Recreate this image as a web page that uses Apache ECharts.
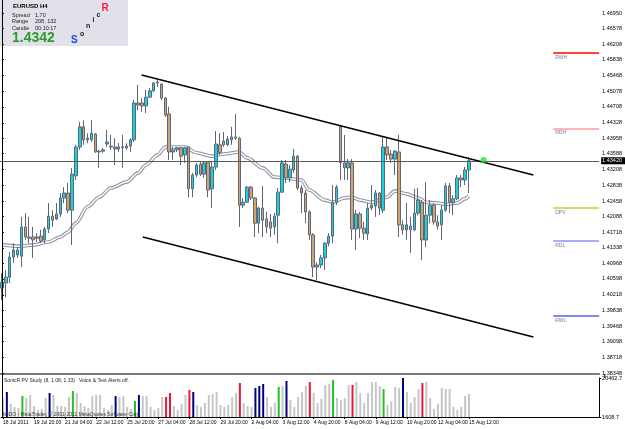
<!DOCTYPE html>
<html><head><meta charset="utf-8">
<script src="https://cdn.jsdelivr.net/npm/echarts@6/dist/echarts.min.js"></script>
<style>html,body{margin:0;padding:0;background:#fff;}#c{width:625px;height:429px;}</style>
</head><body><div id="c"></div>
<script>
// ---------- data ----------
const timeLabels = ['18 Jul 2011','19 Jul 20:00','21 Jul 04:00','22 Jul 12:00','25 Jul 20:00','27 Jul 04:00','28 Jul 12:00','29 Jul 20:00','2 Aug 04:00','3 Aug 12:00','4 Aug 20:00','8 Aug 04:00','9 Aug 12:00','10 Aug 20:00','12 Aug 04:00','15 Aug 12:00'];
const labelStep = 8;
const slotCount = 154;

const opens = [1.4038,1.4050,1.4064,1.4112,1.4117,1.4114,1.4184,1.4160,1.4160,1.4157,
1.4162,1.4153,1.4179,1.4210,1.4203,1.4215,1.4253,1.4265,1.4224,1.4306,
1.4375,1.4423,1.4392,1.4392,1.4406,1.4365,1.4365,1.4382,1.4377,1.4375,
1.4370,1.4375,1.4373,1.4377,1.4392,1.4480,1.4480,1.4473,1.4494,1.4509,
1.4528,1.4525,1.4492,1.4454,1.4363,1.4368,1.4373,1.4356,1.4375,1.4275,
1.4308,1.4334,1.4310,1.4339,1.4275,1.4327,1.4380,1.4389,1.4380,1.4392,
1.4399,1.4396,1.4236,1.4243,1.4279,1.4253,1.4193,1.4229,1.4203,1.4196,
1.4184,1.4212,1.4267,1.4334,1.4301,1.4320,1.4353,1.4277,1.4265,1.4220,
1.4165,1.4088,1.4093,1.4110,1.4145,1.4162,1.4243,1.4423,1.4337,1.4325,
1.4337,1.4179,1.4215,1.4181,1.4167,1.4229,1.4234,1.4265,1.4224,1.4375,
1.4358,1.4346,1.4363,1.4189,1.4177,1.4186,1.4177,1.4217,1.4243,1.4153,
1.4212,1.4236,1.4196,1.4189,1.4224,1.4282,1.4241,1.4251,1.4301,1.4296,
1.4320];
const highs = [1.4074,1.4081,1.4124,1.4145,1.4136,1.4208,1.4217,1.4208,1.4184,1.4169,
1.4177,1.4184,1.4241,1.4224,1.4241,1.4265,1.4279,1.4289,1.4325,1.4380,
1.4435,1.4439,1.4408,1.4439,1.4408,1.4368,1.4373,1.4416,1.4404,1.4396,
1.4384,1.4404,1.4384,1.4396,1.4487,1.4523,1.4492,1.4511,1.4516,1.4530,
1.4535,1.4528,1.4494,1.4471,1.4375,1.4375,1.4375,1.4375,1.4375,1.4313,
1.4337,1.4339,1.4341,1.4341,1.4339,1.4413,1.4408,1.4411,1.4401,1.4423,
1.4454,1.4399,1.4253,1.4282,1.4282,1.4255,1.4232,1.4282,1.4220,1.4215,
1.4217,1.4277,1.4344,1.4344,1.4332,1.4370,1.4356,1.4284,1.4272,1.4224,
1.4169,1.4100,1.4117,1.4148,1.4169,1.4284,1.4284,1.4425,1.4404,1.4346,
1.4346,1.4224,1.4220,1.4196,1.4241,1.4284,1.4272,1.4267,1.4399,1.4399,
1.4368,1.4368,1.4404,1.4200,1.4241,1.4208,1.4275,1.4277,1.4248,1.4291,
1.4248,1.4241,1.4212,1.4236,1.4289,1.4289,1.4260,1.4308,1.4308,1.4327,
1.4351];
const lows = [1.4009,1.4016,1.4050,1.4098,1.4110,1.4088,1.4153,1.4145,1.4110,1.4148,
1.4145,1.4145,1.4169,1.4184,1.4200,1.4208,1.4241,1.4217,1.4141,1.4296,
1.4368,1.4380,1.4384,1.4387,1.4361,1.4325,1.4361,1.4375,1.4368,1.4332,
1.4363,1.4325,1.4368,1.4363,1.4387,1.4463,1.4459,1.4456,1.4492,1.4506,
1.4518,1.4487,1.4447,1.4344,1.4344,1.4363,1.4332,1.4337,1.4255,1.4255,
1.4303,1.4306,1.4301,1.4255,1.4229,1.4320,1.4356,1.4375,1.4377,1.4380,
1.4392,1.4184,1.4229,1.4243,1.4248,1.4160,1.4169,1.4160,1.4169,1.4160,
1.4165,1.4145,1.4265,1.4289,1.4291,1.4313,1.4272,1.4217,1.4193,1.4153,
1.4064,1.4057,1.4086,1.4081,1.4138,1.4145,1.4236,1.4296,1.4296,1.4296,
1.4153,1.4129,1.4157,1.4153,1.4153,1.4224,1.4208,1.4212,1.4217,1.4344,
1.4337,1.4308,1.4160,1.4165,1.4153,1.4122,1.4174,1.4212,1.4105,1.4136,
1.4193,1.4189,1.4177,1.4153,1.4220,1.4217,1.4212,1.4248,1.4279,1.4284,
1.4265];
const closes = [1.4052,1.4064,1.4112,1.4129,1.4129,1.4184,1.4160,1.4157,1.4153,1.4160,
1.4150,1.4179,1.4210,1.4200,1.4215,1.4253,1.4265,1.4224,1.4310,1.4375,
1.4423,1.4392,1.4396,1.4408,1.4363,1.4363,1.4368,1.4387,1.4375,1.4370,
1.4375,1.4373,1.4377,1.4392,1.4480,1.4475,1.4473,1.4494,1.4509,1.4528,
1.4530,1.4492,1.4451,1.4363,1.4368,1.4373,1.4353,1.4373,1.4275,1.4308,
1.4332,1.4310,1.4337,1.4272,1.4327,1.4382,1.4361,1.4380,1.4394,1.4399,
1.4396,1.4236,1.4243,1.4279,1.4253,1.4193,1.4229,1.4200,1.4184,1.4181,
1.4210,1.4267,1.4337,1.4301,1.4322,1.4353,1.4277,1.4265,1.4220,1.4165,
1.4088,1.4093,1.4110,1.4145,1.4162,1.4243,1.4279,1.4337,1.4325,1.4337,
1.4179,1.4215,1.4181,1.4169,1.4229,1.4236,1.4265,1.4229,1.4375,1.4356,
1.4346,1.4365,1.4189,1.4177,1.4189,1.4177,1.4217,1.4248,1.4153,1.4212,
1.4236,1.4196,1.4186,1.4224,1.4282,1.4243,1.4251,1.4301,1.4296,1.4320,
1.4342];

const volumes = [10790,13694,7893,6443,5959,11760,10793,12244,6926,4993,
5476,10793,13210,12244,6926,6926,6443,11277,14177,13210,
8376,6926,5959,11760,12244,12244,5959,4993,7410,11760,
11277,11760,6443,5476,9343,12244,11760,11760,6443,4993,
5959,11277,11277,13210,6926,4993,7893,12244,14661,13694,
7410,6443,8376,12244,12727,13694,7410,6443,7410,11277,
13210,18044,8376,6926,6443,15627,16594,17561,11277,6443,
8376,16111,16594,19011,9827,6443,11277,13694,16594,18528,
13210,8376,10310,17078,17561,19495,10793,9827,10793,17078,
17078,18528,13210,8376,13210,18528,18528,16594,15144,7410,
9343,16111,15627,20462.7,13694,8376,11277,15144,18044,18528,
10793,5476,7893,15627,15144,15144,6443,4993,6443,11760,
12727];
const redBars = [42,43,48,61,79,90,108];
const greenBars = [5,18,34,71,85,98];
const blueBars = [1,12,29,35,49,65,66,67,73,103];

const maBars = [0,5,8,12,15,17,19,22,25,28,32,35,37,40,42,45,47,50,54,57,61,63,67,70,73,77,79,83,85,88,90,92,95,99,101,104,107,109,112,114,117,119,120];
const maValues = [1.4141,1.4138,1.4141,1.4148,1.4160,1.4172,1.4193,1.4232,1.4255,1.4277,1.4291,1.4313,1.4332,1.4356,1.4375,1.4375,1.4375,1.4361,1.4353,1.4358,1.4363,1.4349,1.4325,1.4303,1.4301,1.4296,1.4272,1.4248,1.4243,1.4253,1.4255,1.4248,1.4243,1.4255,1.4270,1.4263,1.4253,1.4243,1.4241,1.4238,1.4241,1.4251,1.4258];

const priceTicks = [1.46950,1.46578,1.46208,1.45838,1.45468,1.45078,1.44708,1.44328,1.43958,1.43588,1.43208,1.42838,1.42458,1.42088,1.41718,1.41338,1.40968,1.40598,1.40218,1.39838,1.39468,1.39098,1.38718,1.38348];
const priceRange = [1.38326, 1.47213];
const volTicks = [1608.7, 20462.7];
const currentPrice = 1.4342;
const pivotNames = ['RWH','RDH','DPV','RDL','RWL'];
const pivotValues = [1.4599,1.4419,1.4230,1.4151,1.3971];
const pivotColors = ['#ff4433','#ff9c9c','#cccc33','#8c8cff','#5c5cf0'];
const upperChannel = [[35.9,1.4547],[136.6,1.4308]];
const lowerChannel = [[36.2,1.4160],[136.6,1.3921]];
const alertPoint = [123.8,1.4344];

// ---------- chart ----------
const FONT = 'Liberation Sans';
const cats = Array.from({length: slotCount}, (_, i) => String(i));
const candleData = opens.map((o, i) => [o, closes[i], lows[i], highs[i]]);
const volColor = i => redBars.includes(i) ? '#e8163c' : greenBars.includes(i) ? '#22c422' : blueBars.includes(i) ? '#000080' : '#c6c6c6';
const volData = volumes.map((v, i) => ({value: v, itemStyle: {color: volColor(i)}}));
const showLabel = i => i % labelStep === 0 && i / labelStep < timeLabels.length;
const W = 604.8;

const pivotLines = pivotNames.map((n, k) => [
  {name: n, coord: [141.7, pivotValues[k]], lineStyle: {color: pivotColors[k], width: k === 0 ? 2 : 1.5, type: 'solid'}},
  {coord: [153.5, pivotValues[k]]}
]);
const priceLine = [[
  {name: 'bid', coord: [-0.5, currentPrice], lineStyle: {color: '#5a5a5a', width: 1, type: 'solid'},
   label: {show: true, position: 'end', formatter: currentPrice.toFixed(5), backgroundColor: '#000', color: '#fff',
     fontSize: 5.5, fontFamily: FONT, padding: [1, 3, 0, 1], distance: 2}},
  {coord: [slotCount - 0.5, currentPrice]}
]];

const chart = echarts.init(document.getElementById('c'), null, {renderer: 'canvas'});
chart.setOption({
  animation: false,
  backgroundColor: '#ffffff',
  grid: [
    {left: 0, top: 2, width: W, height: 372},
    {left: 0, top: 378, width: W, height: 39}
  ],
  xAxis: [
    {type: 'category', gridIndex: 0, data: cats, boundaryGap: true,
     axisLine: {show: true, onZero: false, lineStyle: {color: '#7c7c7c', width: 2}},
     axisTick: {show: false}, axisLabel: {show: false}, splitLine: {show: false}},
    {type: 'value', gridIndex: 0, min: -0.5, max: slotCount - 0.5, show: false},
    {type: 'category', gridIndex: 1, data: cats, boundaryGap: true,
     axisLine: {show: true, onZero: false, lineStyle: {color: '#000', width: 1}},
     axisTick: {show: true, interval: i => showLabel(i), length: 2, alignWithLabel: true, lineStyle: {color: '#000'}},
     axisLabel: {interval: i => showLabel(i), formatter: (v, i) => timeLabels[Math.round(i / labelStep)] || '',
       align: 'left', fontSize: 5, margin: 3, color: '#000', fontFamily: FONT, hideOverlap: false},
     splitLine: {show: false}}
  ],
  yAxis: [
    {type: 'value', gridIndex: 0, position: 'right', min: priceRange[0], max: priceRange[1],
     axisLine: {show: true, lineStyle: {color: '#000', width: 1}},
     axisTick: {show: true, customValues: priceTicks, length: 2, lineStyle: {color: '#000'}},
     axisLabel: {customValues: priceTicks, formatter: v => v.toFixed(5), fontSize: 5.5, margin: 3, color: '#000', fontFamily: FONT},
     splitLine: {show: false}},
    {type: 'value', gridIndex: 1, position: 'right', min: volTicks[0], max: volTicks[1],
     axisLine: {show: true, lineStyle: {color: '#000', width: 1}},
     axisTick: {show: true, customValues: volTicks, length: 2, lineStyle: {color: '#000'}},
     axisLabel: {customValues: volTicks, formatter: v => v.toFixed(1), fontSize: 5.5, margin: 3, color: '#000', fontFamily: FONT},
     splitLine: {show: false}}
  ],
  series: [
    {type: 'line', name: 'ma-edge', xAxisIndex: 1, yAxisIndex: 0, z: 2,
     data: maBars.map((b, k) => [b, maValues[k]]), smooth: 0.3, smoothMonotone: 'x', symbol: 'none',
     lineStyle: {color: '#8e8ea2', width: 3.6},
     markLine: {silent: true, symbol: ['none', 'none'],
       label: {show: true, position: 'insideStartBottom', formatter: '{b}', color: '#7474b4', fontSize: 5, fontFamily: FONT, distance: [2, 2]},
       data: pivotLines}},
    {type: 'line', name: 'ma-core', xAxisIndex: 1, yAxisIndex: 0, z: 3,
     data: maBars.map((b, k) => [b, maValues[k]]), smooth: 0.3, smoothMonotone: 'x', symbol: 'none',
     lineStyle: {color: '#ffffff', width: 1.5},
     markLine: {silent: true, symbol: ['none', 'none'], data: priceLine}},
    {type: 'candlestick', xAxisIndex: 0, yAxisIndex: 0, z: 4, barWidth: 3,
     data: candleData,
     itemStyle: {color: '#14d2e0', color0: '#cfa56c', borderColor: '#5f6678', borderColor0: '#5f6678', borderWidth: 1}},
    {type: 'line', xAxisIndex: 1, yAxisIndex: 0, z: 5, data: upperChannel, symbol: 'none',
     lineStyle: {color: '#000', width: 1.6}},
    {type: 'line', xAxisIndex: 1, yAxisIndex: 0, z: 5, data: lowerChannel, symbol: 'none',
     lineStyle: {color: '#000', width: 1.6}},
    {type: 'scatter', xAxisIndex: 1, yAxisIndex: 0, z: 6, data: [alertPoint], symbol: 'circle', symbolSize: 6,
     itemStyle: {color: '#1ee61e'}},
    {type: 'bar', xAxisIndex: 2, yAxisIndex: 1, barWidth: 2, data: volData}
  ],
  graphic: [
    {type: 'line', shape: {x1: 2.5, y1: 0, x2: 2.5, y2: 418}, style: {stroke: '#000', lineWidth: 1}, z: 50},
    {type: 'line', shape: {x1: 604.8, y1: 374, x2: 604.8, y2: 378}, style: {stroke: '#000', lineWidth: 1}, z: 50},
    {type: 'group', z: 100, children: [
      {type: 'rect', shape: {x: 0, y: 0, width: 128, height: 46}, style: {fill: '#e1e1e9'}},
      {type: 'text', x: 13, y: 6, style: {text: 'EURUSD', font: 'bold 6px ' + FONT, fill: '#000', verticalAlign: 'middle'}},
      {type: 'text', x: 40, y: 6, style: {text: 'H4', font: 'bold 6px ' + FONT, fill: '#000', verticalAlign: 'middle'}},
      {type: 'text', x: 12, y: 15, style: {text: 'Spread', font: '5.5px ' + FONT, fill: '#222', verticalAlign: 'middle'}},
      {type: 'text', x: 35, y: 15, style: {text: '1.70', font: '5.5px ' + FONT, fill: '#222', verticalAlign: 'middle'}},
      {type: 'text', x: 12, y: 21.5, style: {text: 'Range', font: '5.5px ' + FONT, fill: '#222', verticalAlign: 'middle'}},
      {type: 'text', x: 35, y: 21.5, style: {text: '208, 132', font: '5.5px ' + FONT, fill: '#222', verticalAlign: 'middle'}},
      {type: 'text', x: 12, y: 28.5, style: {text: 'Candle', font: '5.5px ' + FONT, fill: '#222', verticalAlign: 'middle'}},
      {type: 'text', x: 35, y: 28.5, style: {text: '00:10:17', font: '5.5px ' + FONT, fill: '#222', verticalAlign: 'middle'}},
      {type: 'text', x: 12, y: 38.5, style: {text: '1.4342', font: 'bold 14px ' + FONT, fill: '#2e9a2e', verticalAlign: 'middle'}},
      {type: 'text', x: 71, y: 40, style: {text: 'S', font: 'bold 10px ' + FONT, fill: '#2a48e0', verticalAlign: 'middle'}},
      {type: 'text', x: 80, y: 34, style: {text: 'o', font: 'bold 7px ' + FONT, fill: '#222', verticalAlign: 'middle'}},
      {type: 'text', x: 86, y: 26, style: {text: 'n', font: 'bold 7px ' + FONT, fill: '#222', verticalAlign: 'middle'}},
      {type: 'text', x: 92.5, y: 20.5, style: {text: 'i', font: 'bold 7px ' + FONT, fill: '#222', verticalAlign: 'middle'}},
      {type: 'text', x: 96.5, y: 15, style: {text: 'c', font: 'bold 7px ' + FONT, fill: '#222', verticalAlign: 'middle'}},
      {type: 'text', x: 101.5, y: 8.5, style: {text: 'R', font: 'bold 10px ' + FONT, fill: '#ee1f43', verticalAlign: 'middle'}}
    ]},
    {type: 'text', x: 4, y: 381, z: 60, style: {text: 'SonicR PV Study (8, 1.08, 1.33)   Voice & Text Alerts off.', font: '5px ' + FONT, fill: '#222', verticalAlign: 'middle'}},
    {type: 'text', x: 3, y: 415, z: 60, style: {text: 'MIDO - MetaTrader, \u00a9 2001-2011 MetaQuotes Software Corp.', font: '5px ' + FONT, fill: '#333', verticalAlign: 'middle'}}
  ]
});
</script>
</body></html>
